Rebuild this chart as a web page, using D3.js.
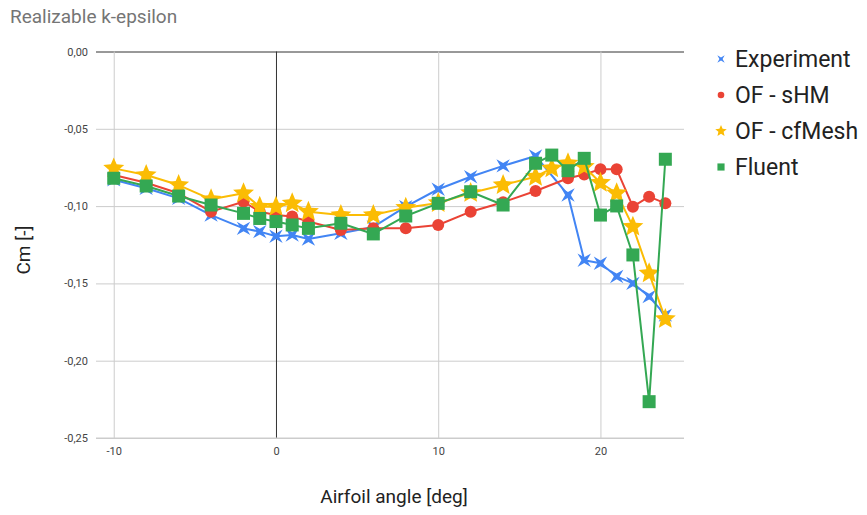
<!DOCTYPE html>
<html>
<head>
<meta charset="utf-8">
<script src="https://cdn.jsdelivr.net/npm/d3@7/dist/d3.min.js"></script>
<style>
  html, body { margin: 0; padding: 0; background: #fff; }
  svg { display: block; font-family: Roboto, Arial, sans-serif; }
</style>
</head>
<body>
<svg id="chart" width="867" height="515"></svg>
<script>
// Pitching moment coefficient vs. airfoil angle of attack
const expAngles    = [-10, -8, -6, -4, -2, -1, 0, 1, 2, 4, 6, 8, 10, 12, 14, 16, 18, 19, 20, 21, 22, 23, 24];
const expCm        = [-0.083, -0.0885, -0.095, -0.1058, -0.1144, -0.1165, -0.1195, -0.1187, -0.1213, -0.1176, -0.1135, -0.1004, -0.0891, -0.081, -0.074, -0.0676, -0.0928, -0.135, -0.137, -0.1455, -0.150, -0.1585, -0.1705];

const shmAngles    = [-10, -8, -6, -4, -2, -1, 0, 1, 2, 4, 6, 8, 10, 12, 14, 16, 18, 19, 20, 21, 22, 23, 24];
const shmCm        = [-0.0799, -0.0849, -0.0917, -0.1036, -0.0972, -0.1036, -0.1058, -0.1068, -0.110, -0.1155, -0.1144, -0.1144, -0.1122, -0.1036, -0.0975, -0.0902, -0.082, -0.0795, -0.0762, -0.0762, -0.1004, -0.0939, -0.0982];

const cfmAngles    = [-10, -8, -6, -4, -2, -1, 0, 1, 2, 4, 6, 8, 10, 12, 14, 16, 17, 18, 19, 20, 21, 22, 23, 24];
const cfmCm        = [-0.0756, -0.0799, -0.0864, -0.0956, -0.0917, -0.1004, -0.1004, -0.0982, -0.1036, -0.1058, -0.1058, -0.101, -0.098, -0.0915, -0.0864, -0.081, -0.0756, -0.0723, -0.0745, -0.0849, -0.0917, -0.1133, -0.1435, -0.173];

const fluAngles    = [-10, -8, -6, -4, -2, -1, 0, 1, 2, 4, 6, 8, 10, 12, 14, 16, 17, 18, 19, 20, 21, 22, 23, 24];
const fluCm        = [-0.082, -0.087, -0.0935, -0.0993, -0.1047, -0.108, -0.110, -0.1122, -0.1144, -0.1111, -0.118, -0.1064, -0.0982, -0.0907, -0.0993, -0.0723, -0.067, -0.0771, -0.0691, -0.1058, -0.0999, -0.1316, -0.2265, -0.0697];

const seriesNames  = ["Experiment", "OF - sHM", "OF - cfMesh", "Fluent"];
const seriesColors = ["#4285f4", "#ea4335", "#fbbc04", "#34a853"];
const xTicks       = [-10, 0, 10, 20];
const yTicks       = [0, -0.05, -0.10, -0.15, -0.20, -0.25];

const titleText = "Realizable k-epsilon";
const xTitle    = "Airfoil angle [deg]";
const yTitle    = "Cm [-]";

const series = [
  { name: seriesNames[0], color: seriesColors[0], shape: "cross", pts: expAngles.map((a, i) => [a, expCm[i]]) },
  { name: seriesNames[1], color: seriesColors[1], shape: "circle", pts: shmAngles.map((a, i) => [a, shmCm[i]]) },
  { name: seriesNames[2], color: seriesColors[2], shape: "star", pts: cfmAngles.map((a, i) => [a, cfmCm[i]]) },
  { name: seriesNames[3], color: seriesColors[3], shape: "square", pts: fluAngles.map((a, i) => [a, fluCm[i]]) }
];

const svg = d3.select("#chart");
const plot = { left: 104, right: 684, top: 51.5, bottom: 438 };

const x = d3.scaleLinear().domain([-10.6, 25.15]).range([plot.left, plot.right]);
const y = d3.scaleLinear().domain([-0.25, 0]).range([plot.bottom, plot.top]);

const fmt = v => d3.format(".2f")(v).replace(".", ",").replace("−", "-");

// Title
svg.append("text")
  .attr("x", 10).attr("y", 23)
  .attr("font-size", 19).attr("fill", "#757575")
  .text(titleText);

// Horizontal gridlines + y labels
const yAxis = d3.axisLeft(y).tickValues(yTicks).tickFormat(fmt)
  .tickSize(-(plot.right - plot.left + 8)).tickPadding(8);
const gy = svg.append("g").attr("transform", `translate(${plot.left - 8},0)`).call(yAxis);
gy.select(".domain").remove();
gy.selectAll(".tick line").attr("stroke", d => d === 0 ? "#333" : "#ccc").attr("stroke-width", 1);
gy.selectAll(".tick text").attr("font-size", 11).attr("fill", "#444")
  .attr("font-family", "Roboto, Arial, sans-serif");

// Vertical gridlines + x labels
const xAxis = d3.axisBottom(x).tickValues(xTicks).tickFormat(d3.format("d"))
  .tickSize(-(plot.bottom - plot.top)).tickPadding(9);
const gx = svg.append("g").attr("transform", `translate(0,${plot.bottom})`).call(xAxis);
gx.select(".domain").remove();
gx.selectAll(".tick line").attr("stroke", d => d === 0 ? "#333" : "#ccc").attr("stroke-width", 1);
gx.selectAll(".tick text").attr("font-size", 11).attr("fill", "#444")
  .attr("font-family", "Roboto, Arial, sans-serif");
gx.selectAll(".tick text").text(d => String(d).replace("−", "-"));

// Baseline at -0.25 drawn over vertical lines
svg.append("line")
  .attr("x1", plot.left - 8).attr("x2", plot.right)
  .attr("y1", y(-0.25)).attr("y2", y(-0.25))
  .attr("stroke", "#ccc");

// Axis titles
svg.append("text")
  .attr("x", (plot.left + plot.right) / 2).attr("y", 503)
  .attr("text-anchor", "middle").attr("font-size", 19).attr("fill", "#222")
  .text(xTitle);
svg.append("text")
  .attr("transform", `translate(30,250) rotate(-90)`)
  .attr("text-anchor", "middle").attr("font-size", 19).attr("fill", "#222")
  .text(yTitle);

// Marker shapes
function crossPath(r) {
  const ri = r * 0.3;
  const pts = [];
  for (let k = 0; k < 8; k++) {
    const ang = Math.PI / 4 + k * Math.PI / 4;
    const rad = k % 2 === 0 ? r : ri;
    pts.push([rad * Math.cos(ang), rad * Math.sin(ang)]);
  }
  return "M" + pts.map(p => p.join(",")).join("L") + "Z";
}
function starPath(r) {
  const ri = r * 0.45;
  const pts = [];
  for (let k = 0; k < 10; k++) {
    const ang = -Math.PI / 2 + k * Math.PI / 5;
    const rad = k % 2 === 0 ? r : ri;
    pts.push([rad * Math.cos(ang), rad * Math.sin(ang)]);
  }
  return "M" + pts.map(p => p.join(",")).join("L") + "Z";
}
function markerPath(shape, s) {
  if (shape === "cross") return crossPath(9.5 * s);
  if (shape === "star") return starPath(11 * s);
  if (shape === "circle") return d3.symbol(d3.symbolCircle, Math.PI * (6 * s) ** 2)();
  const h = 6.5 * s;
  return `M${-h},${-h}H${h}V${h}H${-h}Z`;
}

const line = d3.line().x(d => x(d[0])).y(d => y(d[1]));

const clip = svg.append("defs").append("clipPath").attr("id", "plotclip")
  .append("rect").attr("x", 0).attr("y", 30).attr("width", 700).attr("height", 430);

series.forEach(s => {
  const g = svg.append("g").attr("clip-path", "url(#plotclip)");
  g.append("path").datum(s.pts)
    .attr("d", line).attr("fill", "none")
    .attr("stroke", s.color).attr("stroke-width", 2).attr("stroke-linejoin", "round");
  g.selectAll("path.m").data(s.pts).enter().append("path")
    .attr("class", "m")
    .attr("transform", d => `translate(${x(d[0])},${y(d[1])})`)
    .attr("d", markerPath(s.shape, 1))
    .attr("fill", s.color);
});

// Legend
const legendY = [59, 95, 131, 167];
const lg = svg.append("g");
series.forEach((s, i) => {
  lg.append("path")
    .attr("transform", `translate(721,${legendY[i]})`)
    .attr("d", markerPath(s.shape, 0.55))
    .attr("fill", s.color);
  lg.append("text")
    .attr("x", 735).attr("y", legendY[i])
    .attr("dy", "0.35em")
    .attr("font-size", 23).attr("fill", "#222")
    .text(s.name);
});
</script>
</body>
</html>
